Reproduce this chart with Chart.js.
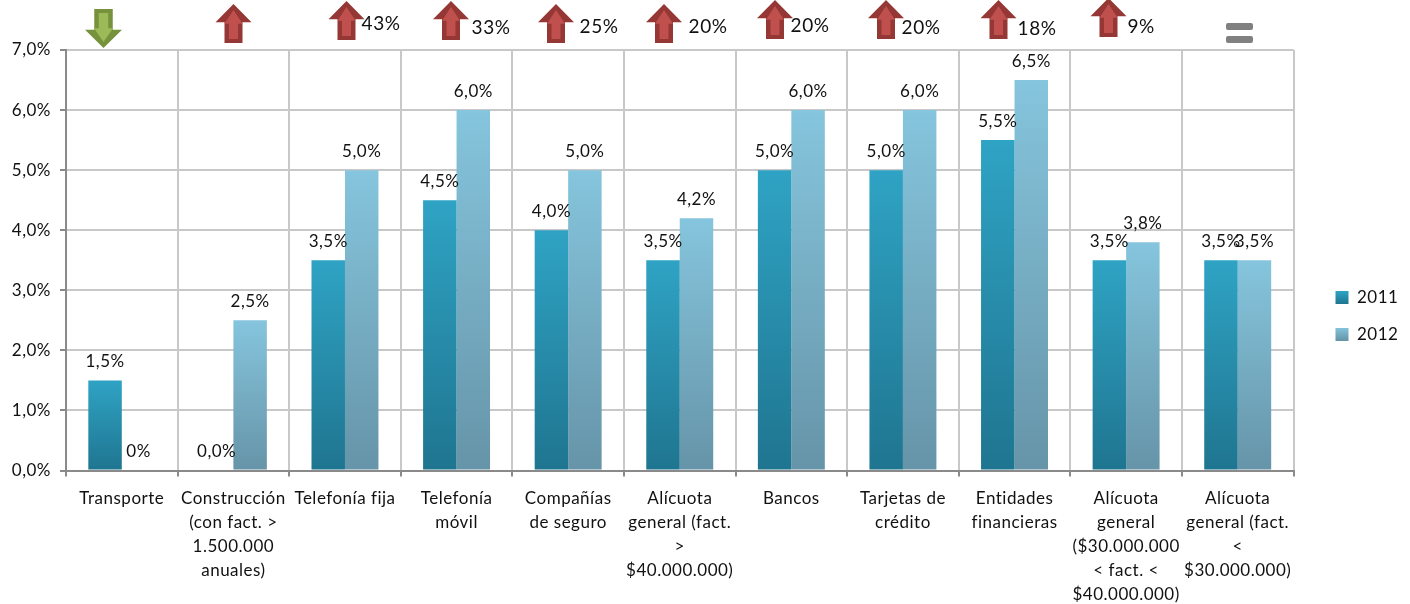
<!DOCTYPE html>
<html>
<head>
<meta charset="utf-8">
<script src="https://cdn.jsdelivr.net/npm/chart.js@4"></script>
<style>
  html, body { margin: 0; padding: 0; background: #fff; }
  #wrap { width: 1410px; height: 604px; }
</style>
</head>
<body>
<div id="wrap"><canvas id="chart" width="1410" height="604"></canvas></div>
<script>
const categories = [
  ["Transporte"],
  ["Construcción", "(con fact. >", "1.500.000", "anuales)"],
  ["Telefonía fija"],
  ["Telefonía", "móvil"],
  ["Compañías", "de seguro"],
  ["Alícuota", "general (fact.", ">", "$40.000.000)"],
  ["Bancos"],
  ["Tarjetas de", "crédito"],
  ["Entidades", "financieras"],
  ["Alícuota", "general", "($30.000.000", "< fact. <", "$40.000.000)"],
  ["Alícuota", "general (fact.", "<", "$30.000.000)"]
];
const series2011 = [1.5, 0, 3.5, 4.5, 4, 3.5, 5, 5, 5.5, 3.5, 3.5];
const series2012 = [0, 2.5, 5, 6, 5, 4.2, 6, 6, 6.5, 3.8, 3.5];
const valueLabels2012 = ["0%", null, null, null, null, null, null, null, null, null, null];
const yearLabels = ["2011", "2012"];
const changeDirs = ["down", "up", "up", "up", "up", "up", "up", "up", "up", "up", "same"];
const changeLabels = ["", "", "43%", "33%", "25%", "20%", "20%", "20%", "18%", "9%", ""];

// arrows sit above the plot, slightly off-grid like in the original slide
const arrowX = [103.5, 233.5, 346.5, 451, 556, 664, 775, 886, 998.5, 1108.5, 1239.5];
const arrowTop = [9, 4, 1, 1, 4, 4, 0, 0, 0, -2, 23];
const changeLabelX = [0, 0, 381, 491, 599, 708, 810, 921, 1037, 1141, 0];
const changeLabelY = [0, 0, 24, 28, 27, 27, 26, 28, 29, 27, 0];

const FONT = "Lato";
const TEXT = "#111";
const colors2011 = ["#2fa3c4", "#1f7590"];
const colors2012 = ["#85c5dd", "#6694a8"];

function fmt(v) {
  return v.toFixed(1).replace(".", ",") + "%";
}

function barGradient(ctx, cols) {
  const chart = ctx.chart;
  if (!chart.chartArea || ctx.parsed == null) return cols[0];
  const y = chart.scales.y;
  const top = y.getPixelForValue(ctx.parsed.y);
  const base = y.getPixelForValue(0);
  const g = chart.ctx.createLinearGradient(0, top, 0, Math.max(base, top + 1));
  g.addColorStop(0, cols[0]);
  g.addColorStop(1, cols[1]);
  return g;
}

function arrowPath(c, cx, top, w, h, up) {
  const hh = h * 0.47, sw = w * 0.5;
  const tip = up ? top : top + h;
  const neck = up ? top + hh : top + h - hh;
  const end = up ? top + h : top;
  c.beginPath();
  c.moveTo(cx, tip);
  c.lineTo(cx + w / 2, neck);
  c.lineTo(cx + sw / 2, neck);
  c.lineTo(cx + sw / 2, end);
  c.lineTo(cx - sw / 2, end);
  c.lineTo(cx - sw / 2, neck);
  c.lineTo(cx - w / 2, neck);
  c.closePath();
}

// legend box is wider than its content in the original, plot stops at 1293
const legendFit = {
  id: "legendFit",
  beforeLayout(chart) {
    const legend = chart.legend;
    const fit = legend.fit;
    legend.fit = function () {
      fit.call(this);
      this.width = 116.5;
    };
    chart.ctx.letterSpacing = "0.5px";
  },
  afterLayout(chart) {
    const l = chart.legend;
    l.left += 22; l.right += 22;
    l.top -= 11; l.bottom -= 11;
  }
};

const barLabels = {
  id: "barLabels",
  afterDatasetsDraw(chart) {
    const c = chart.ctx;
    c.save();
    c.font = "17px " + FONT;
    c.fillStyle = TEXT;
    c.textAlign = "center";
    c.textBaseline = "middle";
    chart.data.datasets.forEach((ds, d) => {
      chart.getDatasetMeta(d).data.forEach((bar, i) => {
        let txt = fmt(ds.data[i]);
        if (d === 1 && valueLabels2012[i]) txt = valueLabels2012[i];
        c.fillText(txt, bar.x, bar.y - 19);
      });
    });
    c.restore();
  }
};

const changeMarks = {
  id: "changeMarks",
  afterDraw(chart) {
    const c = chart.ctx;
    c.save();
    changeDirs.forEach((dir, i) => {
      const cx = arrowX[i], top = arrowTop[i];
      if (dir === "same") {
        c.fillStyle = "#808080";
        c.beginPath();
        c.roundRect(cx - 13.5, top, 27, 7, 2);
        c.roundRect(cx - 13.5, top + 13, 27, 7, 2);
        c.fill();
        return;
      }
      const up = dir === "up";
      const w = up ? 36 : 37;
      const h = 39;
      c.fillStyle = up ? "#953735" : "#76923c";
      arrowPath(c, cx, top, w, h, up);
      c.fill();
      c.fillStyle = up ? "#c0504d" : "#9bbb59";
      arrowPath(c, cx, up ? top + 6 : top + 4, w - 18, h - 10, up);
      c.fill();
      if (changeLabels[i]) {
        c.font = "19px " + FONT;
        c.fillStyle = TEXT;
        c.textAlign = "center";
        c.textBaseline = "middle";
        c.fillText(changeLabels[i], changeLabelX[i], changeLabelY[i]);
      }
    });
    c.restore();
  }
};

new Chart(document.getElementById("chart"), {
  type: "bar",
  data: {
    labels: categories,
    datasets: [
      { label: yearLabels[0], data: series2011, backgroundColor: (ctx) => barGradient(ctx, colors2011) },
      { label: yearLabels[1], data: series2012, backgroundColor: (ctx) => barGradient(ctx, colors2012) }
    ]
  },
  options: {
    responsive: false,
    animation: false,
    layout: { padding: { top: 50, left: 0, right: 0, bottom: 0 } },
    datasets: { bar: { categoryPercentage: 0.6, barPercentage: 1 } },
    scales: {
      x: {
        afterFit(scale) { scale.height = 133.5; },
        grid: { color: "#c8c8c8", lineWidth: 2, tickColor: "#8a8a8a", tickLength: 6 },
        border: { color: "#8a8a8a", width: 2 },
        ticks: {
          autoSkip: false,
          maxRotation: 0,
          minRotation: 0,
          padding: 10,
          color: TEXT,
          font: { family: FONT, size: 17, lineHeight: 24 / 17 }
        }
      },
      y: {
        min: 0,
        max: 7,
        afterFit(scale) { scale.width = 66; },
        grid: { color: "#c8c8c8", lineWidth: 2, tickColor: "#8a8a8a", tickLength: 6 },
        border: { color: "#8a8a8a", width: 2 },
        ticks: {
          stepSize: 1,
          padding: 9,
          color: TEXT,
          font: { family: FONT, size: 17 },
          callback: (v) => fmt(v)
        }
      }
    },
    plugins: {
      tooltip: { enabled: false },
      legend: {
        position: "right",
        labels: {
          color: TEXT,
          boxWidth: 13,
          boxHeight: 13,
          padding: 20,
          font: { family: FONT, size: 17 },
          generateLabels(chart) {
            const c = chart.ctx;
            return yearLabels.map((name, i) => {
              const cols = i === 0 ? colors2011 : colors2012;
              const g = c.createLinearGradient(0, 291 + i * 36.5, 0, 304 + i * 36.5);
              g.addColorStop(0, cols[0]);
              g.addColorStop(1, cols[1]);
              return { text: name, fillStyle: g, strokeStyle: "transparent", lineWidth: 0, datasetIndex: i, fontColor: TEXT };
            });
          }
        }
      }
    }
  },
  plugins: [legendFit, barLabels, changeMarks]
});
</script>
</body>
</html>
